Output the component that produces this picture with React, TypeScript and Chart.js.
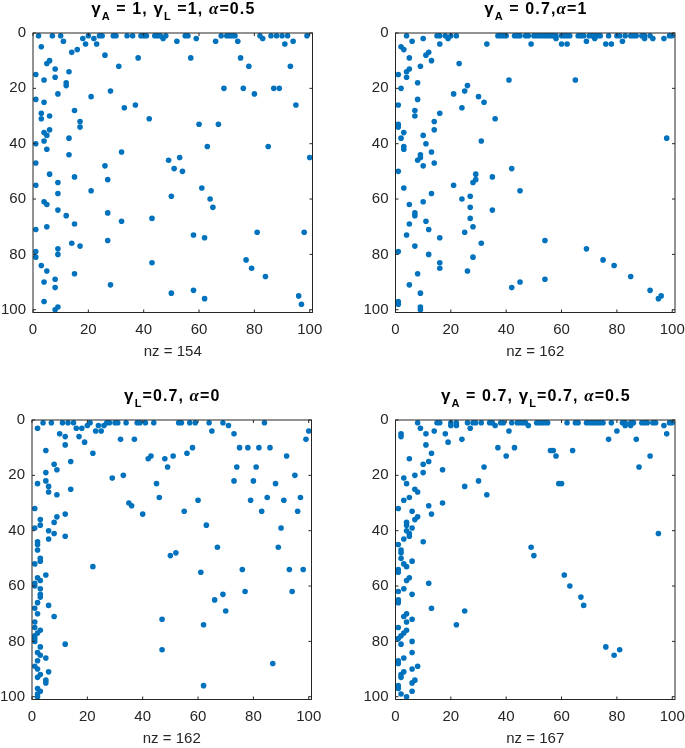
import React, { useEffect, useRef } from 'react';
import { Chart, registerables } from 'chart.js';

Chart.register(...registerables);

// ---------- data ----------
const TICK_VALUES = [0, 20, 40, 60, 80, 100];
const AXIS_MAX = 101;

const titles = [
  'γ_A = 1, γ_L =1, α=0.5',
  'γ_A = 0.7,α=1',
  'γ_L=0.7, α=0',
  'γ_A = 0.7, γ_L=0.7, α=0.5',
];
const nzLabels = ['nz = 154', 'nz = 162', 'nz = 162', 'nz = 167'];

// [column, row] pairs of nonzeros
const spy1: [number, number][] = [
  [2,1],[7,1],[10,1],[20,1],[24,1],[25,1],[29,1],[30,1],[34,1],[36,1],[39,1],[40,1],[41,1],[44,1],[45,1],[46,1],[48,1],[55,1],[56,1],[68,1],[70,1],[71,1],[72,1],[73,1],[82,1],[86,1],[88,1],[90,1],[92,1],[99,1],
  [18,2],[22,2],[47,2],[59,2],[83,2],
  [11,3],[52,3],[66,3],[74,3],[94,3],
  [19,4],[23,4],[91,4],
  [3,5],[16,6],[14,7],[26,8],[38,9],[57,9],[75,9],[6,10],[5,11],[31,12],[78,12],[93,12],[8,13],[13,14],[1,15],[8,16],[4,17],[12,18],[12,19],
  [69,20],[76,20],[87,20],[89,20],[28,21],[9,22],[80,22],[21,23],[1,24],[4,25],[37,26],[95,26],[33,27],[15,28],[3,29],[6,30],[3,31],[42,31],[17,32],
  [60,33],[67,33],[17,34],[6,35],[4,36],[5,37],[13,38],[4,39],[1,40],[63,41],[85,41],[5,42],[32,43],[13,44],[53,45],[100,45],[49,46],[1,47],[26,48],
  [51,49],[54,50],[6,51],[15,52],[27,53],[9,54],[1,55],[61,56],[21,57],[9,58],[50,59],[64,60],[4,61],[5,62],[65,63],[9,64],[27,65],[12,66],[43,67],
  [32,68],[15,69],[5,70],[1,71],[81,72],[98,72],[58,73],[62,74],[27,75],[14,76],[17,77],[9,78],[1,79],[9,80],[1,81],[77,82],[43,83],[3,84],[79,85],
  [5,86],[15,87],[84,88],[8,89],[4,90],[28,91],[8,92],[58,93],[50,94],[96,95],[62,96],[4,97],[97,98],[9,99],[8,100],
];

const spy2: [number, number][] = [
  [4,1],[15,1],[16,1],[18,1],[20,1],[22,1],[37,1],[38,1],[39,1],[40,1],[43,1],[44,1],[45,1],[47,1],[48,1],[50,1],[51,1],[52,1],[53,1],[54,1],[55,1],[56,1],[57,1],[58,1],
  [60,1],[61,1],[62,1],[63,1],[66,1],[67,1],[68,1],[70,1],[71,1],[72,1],[73,1],[74,1],[77,1],[80,1],[81,1],[83,1],[85,1],[86,1],[87,1],[89,1],[90,1],[92,1],[99,1],[100,1],
  [10,2],[19,2],[58,2],[72,2],[90,2],[93,2],[97,2],
  [6,3],[69,3],[82,3],
  [16,4],[33,4],[49,4],[60,4],[62,4],[76,4],[78,4],
  [2,5],[3,6],[12,7],[11,8],[5,9],[13,10],[23,11],[9,12],[5,13],[4,14],[1,15],[4,16],[41,17],[65,17],[8,18],[26,19],[2,20],[25,21],[21,22],[30,23],
  [8,24],[32,25],[1,26],[24,27],[7,28],[16,29],[7,30],[36,31],[14,32],[1,33],[1,34],[14,35],[3,36],[10,37],[2,38],[98,38],[31,39],[11,40],[3,41],
  [3,42],[13,43],[9,44],[9,45],[8,46],[14,47],[10,48],[42,49],[1,50],[29,51],[35,52],[29,53],[28,54],[21,55],[3,56],[45,57],[13,58],[27,59],[24,60],
  [10,61],[5,62],[27,63],[35,64],[7,65],[7,66],[27,67],[11,68],[5,69],[28,70],[12,71],[25,72],[4,73],[16,74],[54,75],[31,76],[7,77],[69,78],[1,79],
  [12,80],[28,81],[75,82],[16,83],[79,84],[16,85],[26,86],[8,87],[85,88],[54,89],[45,90],[5,91],[42,92],[92,93],[9,94],[96,95],[95,96],[1,97],[1,98],
  [9,99],[9,100],
];

const spy3: [number, number][] = [
  [4,1],[7,1],[11,1],[13,1],[15,1],[21,1],[27,1],[28,1],[30,1],[31,1],[34,1],[38,1],[39,1],[41,1],[44,1],[53,1],[54,1],[57,1],[59,1],[64,1],[69,1],[84,1],
  [20,2],[24,2],[26,2],[71,2],
  [2,3],[16,3],[18,3],
  [23,4],[25,4],[65,4],[100,4],
  [10,5],[73,5],[12,6],[17,6],[32,7],[37,7],[99,7],[19,8],[12,9],[58,10],[75,10],[78,10],[82,10],[86,10],[5,11],[22,12],[56,12],[43,13],[51,13],[92,13],
  [42,14],[48,14],[14,15],[8,16],[49,17],[74,17],[81,17],[9,18],[5,19],[33,20],[95,20],[29,21],[5,22],[73,22],[80,22],[2,23],[45,23],[88,23],[6,24],
  [14,25],[6,26],[9,27],[46,28],[85,28],[97,28],[60,29],[79,29],[91,29],[35,30],[36,31],[1,32],[55,33],[83,33],[96,33],[12,34],[40,34],[9,35],[3,36],
  [8,37],[3,38],[63,38],[1,39],[90,39],[6,40],[8,41],[12,42],[6,43],[2,44],[2,45],[67,46],[89,46],[2,47],[52,48],[50,49],[3,50],[3,51],[1,52],[22,53],
  [76,54],[93,54],[98,54],[61,55],[5,56],[2,57],[3,58],[1,59],[1,60],[3,61],[77,62],[94,62],[3,63],[69,63],[3,64],[66,65],[2,66],[6,67],[1,68],[70,69],
  [2,70],[8,71],[47,72],[1,73],[62,74],[1,75],[3,76],[2,77],[1,78],[1,79],[1,80],[12,81],[3,82],[47,83],[2,84],[3,85],[5,86],[2,87],[87,88],[1,89],
  [2,90],[6,91],[3,92],[2,93],[5,94],[5,95],[62,96],[2,97],[3,98],[2,99],[2,100],
];

const spy4: [number, number][] = [
  [8,1],[15,1],[16,1],[20,1],[22,1],[26,1],[28,1],[29,1],[31,1],[34,1],[35,1],[38,1],[39,1],[42,1],[44,1],[45,1],[46,1],[47,1],[51,1],[52,1],[53,1],[54,1],[55,1],
  [62,1],[65,1],[66,1],[69,1],[70,1],[71,1],[72,1],[73,1],[74,1],[75,1],[78,1],[82,1],[83,1],[85,1],[86,1],[89,1],[90,1],[91,1],[93,1],[94,1],[99,1],[100,1],
  [20,2],[22,2],[36,2],[48,2],[83,2],[85,2],[97,2],
  [9,3],[27,3],
  [14,4],[41,4],[80,4],
  [2,5],[11,5],[18,5],[98,5],[2,6],[24,7],[77,7],[87,7],[19,8],[11,9],[37,10],[43,10],[56,11],[57,11],[64,11],[13,12],[40,13],[58,13],[92,13],[5,14],
  [12,15],[10,16],[32,17],[88,17],[17,18],[10,19],[7,20],[3,21],[30,22],[4,23],[59,23],[60,23],[25,24],[7,25],[8,26],[33,27],[5,28],[3,29],[17,30],
  [12,31],[1,32],[6,33],[13,34],[8,35],[7,36],[4,37],[4,38],[6,39],[4,40],[5,41],[95,41],[5,42],[3,43],[10,44],[1,45],[49,46],[2,47],[2,48],[50,49],
  [2,50],[6,51],[3,52],[4,53],[1,54],[1,55],[61,56],[5,57],[4,58],[12,59],[63,60],[3,61],[1,62],[6,63],[67,64],[1,65],[1,66],[68,67],[13,68],[25,69],
  [4,70],[3,71],[6,72],[4,73],[22,74],[1,75],[4,76],[3,77],[2,78],[1,79],[6,80],[2,81],[76,82],[81,83],[6,84],[79,85],[3,86],[1,87],[1,88],[8,89],
  [6,90],[3,91],[2,92],[2,93],[7,94],[6,95],[1,96],[1,97],[6,98],[2,99],[4,100],
];

const spyData = [spy1, spy2, spy3, spy4];

// ---------- layout / style ----------
const ORIGINS = [
  { ox: 33, oy: 33 },
  { ox: 395.5, oy: 33 },
  { ox: 32, oy: 420 },
  { ox: 395.5, oy: 420 },
];
const AXIS_SIZE = 279.5;
const CW = 342;
const CH = 374;
const Y_W = 33;
const TOP_PAD = 33;
const X_H = 50;
const BLUE = '#0072BD';
const AXIS_COLOR = '#262626';
const FONT = '"Liberation Sans", Arial, sans-serif';
const TITLE_SPACING = 1.1;

type Seg = { t: string; kind: 'text' | 'greek' | 'sub' };

function parseTitle(s: string): Seg[] {
  const out: Seg[] = [];
  for (let i = 0; i < s.length; i++) {
    const ch = s[i];
    if (ch === '_' && i + 1 < s.length) {
      out.push({ t: s[i + 1], kind: 'sub' });
      i++;
      continue;
    }
    const kind = /[α-ω]/.test(ch) ? 'greek' : 'text';
    out.push({ t: ch, kind });
  }
  return out;
}

function segFont(seg: Seg) {
  if (seg.kind === 'sub') return `bold 11px ${FONT}`;
  if (seg.kind === 'greek') {
    return seg.t === 'α'
      ? 'italic bold 17px "Liberation Serif", serif'
      : `bold 17px ${FONT}`;
  }
  return `bold 16px ${FONT}`;
}

const richTitlePlugin = {
  id: 'richTitle',
  afterDraw(chart: any, _args: any, opts: any) {
    if (!opts || !opts.text) return;
    const { ctx, chartArea: a } = chart;
    const segs = parseTitle(opts.text);
    ctx.save();
    ctx.fillStyle = '#000';
    ctx.textBaseline = 'alphabetic';
    ctx.textAlign = 'left';
    const widths = segs.map((s) => {
      ctx.font = segFont(s);
      return ctx.measureText(s.t).width;
    });
    const total =
      widths.reduce((p, w) => p + w, 0) + TITLE_SPACING * (segs.length - 1);
    let x = (a.left + a.right) / 2 - total / 2;
    const baseY = a.top - 19;
    segs.forEach((s, i) => {
      ctx.font = segFont(s);
      ctx.fillText(s.t, x, s.kind === 'sub' ? baseY + 6 : baseY);
      x += widths[i] + TITLE_SPACING;
    });
    ctx.restore();
  },
};

const framePlugin = {
  id: 'spyFrame',
  afterDatasetsDraw(chart: any) {
    const { ctx, chartArea: a, scales } = chart;
    ctx.save();
    ctx.strokeStyle = AXIS_COLOR;
    ctx.lineWidth = 1;
    ctx.strokeRect(a.left, a.top, a.right - a.left, a.bottom - a.top);
    const L = 3;
    ctx.beginPath();
    TICK_VALUES.forEach((v) => {
      const px = scales.x.getPixelForValue(v);
      ctx.moveTo(px, a.bottom);
      ctx.lineTo(px, a.bottom - L);
      ctx.moveTo(px, a.top);
      ctx.lineTo(px, a.top + L);
      const py = scales.y.getPixelForValue(v);
      ctx.moveTo(a.left, py);
      ctx.lineTo(a.left + L, py);
      ctx.moveTo(a.right, py);
      ctx.lineTo(a.right - L, py);
    });
    ctx.stroke();
    ctx.restore();
  },
};

function SpyPlot({ idx }: { idx: number }) {
  const ref = useRef<HTMLCanvasElement | null>(null);
  const { ox, oy } = ORIGINS[idx];
  const cl = Math.floor(ox - Y_W);
  const ct = Math.floor(oy - TOP_PAD);
  const padLeft = ox - Y_W - cl;
  const padTop = oy - ct;
  const padRight = CW - padLeft - Y_W - AXIS_SIZE;
  const padBottom = CH - padTop - AXIS_SIZE - X_H;

  useEffect(() => {
    if (!ref.current) return;
    const tickFont = { family: FONT, size: 15 };
    const setTicks = (scale: any) => {
      scale.ticks = TICK_VALUES.map((v) => ({ value: v }));
    };
    const chart = new Chart(ref.current, {
      type: 'scatter',
      data: {
        datasets: [
          {
            data: spyData[idx].map(([c, r]) => ({ x: c, y: r })),
            backgroundColor: BLUE,
            borderWidth: 0,
            pointRadius: 2.8,
            pointHoverRadius: 2.8,
          },
        ],
      },
      options: {
        animation: false,
        responsive: false,
        events: [],
        layout: {
          padding: { left: padLeft, top: padTop, right: padRight, bottom: padBottom },
        },
        plugins: {
          legend: { display: false },
          tooltip: { enabled: false },
          title: { display: false },
          richTitle: { text: titles[idx] },
        } as any,
        scales: {
          x: {
            type: 'linear',
            position: 'bottom',
            min: 0,
            max: AXIS_MAX,
            afterBuildTicks: setTicks,
            afterFit: (s: any) => {
              s.height = X_H;
            },
            grid: { display: false, drawTicks: false },
            border: { display: false },
            ticks: { padding: 8, color: AXIS_COLOR, font: tickFont, maxRotation: 0, autoSkip: false },
            title: {
              display: true,
              text: nzLabels[idx],
              color: AXIS_COLOR,
              font: { family: FONT, size: 15 },
              padding: { top: 0, bottom: 1.5 },
            },
          },
          y: {
            type: 'linear',
            position: 'left',
            reverse: true,
            min: 0,
            max: AXIS_MAX,
            afterBuildTicks: setTicks,
            afterFit: (s: any) => {
              s.width = Y_W;
            },
            grid: { display: false, drawTicks: false },
            border: { display: false },
            ticks: { padding: 7, color: AXIS_COLOR, font: tickFont, autoSkip: false },
          },
        },
      },
      plugins: [framePlugin, richTitlePlugin],
    } as any);
    return () => chart.destroy();
  }, [idx]);

  return (
    <canvas
      ref={ref}
      width={CW}
      height={CH}
      style={{ position: 'absolute', left: cl, top: ct, width: CW, height: CH }}
    />
  );
}

export default function App() {
  return (
    <div
      style={{
        position: 'absolute',
        left: 0,
        top: 0,
        width: 685,
        height: 748,
        background: '#fff',
        overflow: 'hidden',
      }}
    >
      {[0, 1, 2, 3].map((i) => (
        <SpyPlot key={i} idx={i} />
      ))}
    </div>
  );
}
